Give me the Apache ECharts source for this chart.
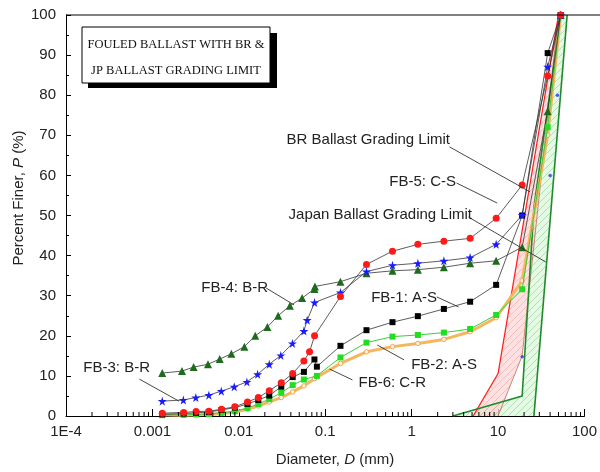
<!DOCTYPE html>
<html><head><meta charset="utf-8">
<script src="https://cdn.jsdelivr.net/npm/echarts@6/dist/echarts.min.js"></script>
<style>html,body{margin:0;padding:0;background:#fff}#c{width:600px;height:472px}</style>
</head><body><div id="c"></div>
<script>
// ---------- data ----------
const xTickLabels = ['1E-4','0.001','0.01','0.1','1','10','100'];
const sieves = [0.15,0.3,0.6,1.18,2.36,4.75,9.5,19,37.5,53];

const fb1D = [0.0013,0.0023,0.0032,0.0045,0.0063,0.009,0.0126,0.0168,0.0225,0.031,0.042,0.0566,0.075,0.08].concat(sieves);
const fb1P = [0.4,0.6,0.8,1.0,1.5,2.1,3.0,4.0,5.1,7.3,9.7,11.0,14.1,12.3,17.5,21.4,23.4,24.9,26.7,28.5,32.7,50,90.5,100];

const fb2D = [0.0013,0.0023,0.0032,0.0045,0.0063,0.009,0.0126,0.0168,0.0225,0.031,0.042,0.0566,0.08].concat(sieves);
const fb2P = [0.2,0.3,0.4,0.5,0.8,1.2,2.0,3.0,4.2,5.8,7.7,9.1,10.0,14.6,18.3,19.8,20.2,20.8,21.7,25.2,31.6,72,100];

const fb3D = [0.0013,0.00228,0.00318,0.0045,0.00627,0.00885,0.0124,0.0165,0.0225,0.0306,0.0417,0.0566,0.0618,0.0752].concat(sieves);
const fb3P = [3.7,4.0,4.6,5.2,6.2,7.3,8.5,10.4,12.9,15.1,18.1,21.2,23.9,28.3,30.8,36.0,37.6,38.1,38.7,39.5,42.8,50.1,87.1,100];

const fb4D = [0.0013,0.0022,0.0030,0.0044,0.0060,0.0082,0.0116,0.0155,0.0214,0.0285,0.039,0.054,0.075,0.076].concat(sieves);
const fb4P = [10.7,11.2,12.2,12.9,14.2,15.5,17.3,20.0,22.2,25.0,27.5,29.4,31.7,32.3,33.5,35.6,36.2,36.5,37.1,38.1,38.7,42.1,76,100];

const fb5D = [0.0013,0.0023,0.0032,0.0045,0.0063,0.009,0.0126,0.0168,0.0225,0.031,0.042,0.0566,0.0658,0.0752].concat(sieves);
const fb5P = [0.7,0.9,1.1,1.2,1.7,2.3,3.5,4.6,6.3,8.3,10.6,13.7,16.0,20.0,29.8,37.8,41.1,42.8,43.6,44.3,49.3,57.6,84.8,100];

const fb6D = [0.0013,0.0023,0.0032,0.0045,0.0063,0.009,0.0126,0.0168,0.0225,0.031,0.042,0.0566,0.075].concat(sieves);
const fb6P = [0.3,0.2,0.3,0.4,0.6,1.0,1.7,2.5,3.5,4.6,6.0,7.5,9.3,13.1,16.0,17.3,18.1,19.1,21.0,24.5,33.7,70,100];

// grading limits
const brUpperD = [5.15,10,50];   const brUpperP = [0,10.6,100];
const brLowerD = [10,19,50];     const brLowerP = [0,15,100];
const jpUpperD = [3,19,26,53];   const jpUpperP = [0,5,52,100];
const jpLowerD = [26,63];        const jpLowerP = [0,100];
const blueDotD = [19,40,48.6];   const blueDotP = [14.8,60,80];

// annotation arrows: [startD, startP, endD, endP]
const arrows = [
  [0.02075,31.9,0.0436,27.7],
  [0.000706,9.2,0.00203,3.7],
  [1.95,29.7,3.49,27.2],
  [0.817,14.0,0.40,17.7],
  [0.2065,9.0,0.1125,11.7],
  [2.75,67.1,23.4,55.9],
  [3.31,58.1,9.77,53.1],
  [4.55,49.6,35.7,38.4]
];
const notes = [
  ['FB-4: B-R',268,288],
  ['FB-3: B-R',150,368],
  ['FB-1: A-S',437,298],
  ['FB-2: A-S',477,365],
  ['FB-6: C-R',426,383],
  ['BR Ballast Grading Limit',450,140],
  ['FB-5: C-S',456,182],
  ['Japan Ballast Grading Limit',472,215]
];

// ---------- helpers ----------
const zip = (d,p) => d.map((v,i)=>[v,p[i]]);
const FONT = '"Liberation Sans", Arial, sans-serif';
function hatch(color, bg){
  const c = document.createElement('canvas'); c.width = 7; c.height = 7;
  const g = c.getContext('2d');
  g.fillStyle = bg; g.fillRect(0,0,7,7);
  g.strokeStyle = color; g.lineWidth = 0.7;
  g.beginPath(); g.moveTo(0,7); g.lineTo(7,0); g.moveTo(-1,1); g.lineTo(1,-1); g.moveTo(6,8); g.lineTo(8,6); g.stroke();
  return c;
}
function band(pts, fill, z){
  return {type:'custom', coordinateSystem:'cartesian2d', data:[[1,50]], silent:true, z:z, clip:false,
    renderItem:(params, api)=>({type:'polygon', shape:{points: pts.map(p=>api.coord(p))},
      style:{fill: fill, stroke:'none'}})};
}
const star = 'path://M50,0 L61,35 L98,35 L68,57 L79,91 L50,70 L21,91 L32,57 L2,35 L39,35 Z';
const minorX = [];
for (let k=-4;k<2;k++) for (let m=2;m<10;m++) minorX.push([m*Math.pow(10,k),0]);

function dataLine(name, d, p, lineColor, lw, symbol, size, color, z, extra){
  return Object.assign({type:'line', name, data:zip(d,p), symbol, symbolSize:size, showAllSymbol:true,
    lineStyle:{color:lineColor, width:lw}, itemStyle:{color:color, borderWidth:0}, z:z, silent:true}, extra||{});
}

const pinkFill = {image: hatch('rgba(225,110,110,0.45)','rgba(255,200,200,0.55)'), repeat:'repeat'};
const greenFill = {image: hatch('rgba(70,170,70,0.45)','rgba(205,245,205,0.55)'), repeat:'repeat'};

const chart = echarts.init(document.getElementById('c'), null, {renderer:'canvas'});
chart.setOption({
  animation:false,
  grid:{left:66, right:11, top:15, bottom:56, show:false},
  xAxis:{type:'log', logBase:10, min:1e-4, max:100,
    axisLine:{show:true, onZero:false, lineStyle:{color:'#000', width:1}},
    axisTick:{show:true, inside:true, length:7, lineStyle:{color:'#000'}},
    axisLabel:{fontSize:15, color:'#222', fontFamily:FONT, margin:8,
      formatter:v=>xTickLabels[Math.round(Math.log10(v))+4]},
    splitLine:{show:false}},
  yAxis:{type:'value', min:0, max:100, interval:10,
    axisLine:{show:true, lineStyle:{color:'#000', width:1}},
    axisTick:{show:true, inside:true, length:5, lineStyle:{color:'#000'}},
    minorTick:{show:true, splitNumber:2, length:3, lineStyle:{color:'#000'}},
    axisLabel:{fontSize:15, color:'#222', fontFamily:FONT, margin:10},
    splitLine:{show:false}},
  series:[
    band(zip(jpUpperD,jpUpperP).concat(zip(jpLowerD,jpLowerP).reverse()), greenFill, 1),
    band(zip(brUpperD,brUpperP).concat(zip(brLowerD,brLowerP).reverse()), pinkFill, 1),
    {type:'custom', coordinateSystem:'cartesian2d', data:minorX, silent:true, z:5, clip:false,
      renderItem:(params, api)=>{const p=api.coord([api.value(0),0]);
        return {type:'line', shape:{x1:p[0],y1:p[1],x2:p[0],y2:p[1]-4}, style:{stroke:'#000', lineWidth:1}};}},
    dataLine('brLower', brLowerD, brLowerP, '#c06a5a', 0.8, 'none', 0, '#c06a5a', 2),
    dataLine('brUpper', brUpperD, brUpperP, '#ff2020', 1.3, 'none', 0, '#ff2020', 2),
    dataLine('jpUpper', jpUpperD, jpUpperP, '#1f8a2a', 1.6, 'none', 0, '#1f8a2a', 2),
    dataLine('jpLower', jpLowerD, jpLowerP, '#1f8a2a', 1.6, 'none', 0, '#1f8a2a', 2),
    {type:'scatter', data:zip(blueDotD,blueDotP), symbol:'circle', symbolSize:3.5, itemStyle:{color:'#2233ff'}, z:3, silent:true},
    dataLine('FB-6', fb6D, fb6P, '#f5b65e', 3, 'circle', 4.5, '#fff4e0', 3, {itemStyle:{color:'#fff4e0', borderColor:'#f2a64a', borderWidth:1}}),
    dataLine('FB-2', fb2D, fb2P, '#3ccc3c', 1, 'rect', 6, '#22dd22', 4),
    dataLine('FB-1', fb1D, fb1P, '#333', 0.8, 'rect', 6, '#000', 4),
    dataLine('FB-4', fb4D, fb4P, '#333', 0.8, 'triangle', 8, '#1d6b1d', 4),
    dataLine('FB-3', fb3D, fb3P, '#333', 0.8, star, 9, '#1a1aff', 4),
    dataLine('FB-5', fb5D, fb5P, '#333', 0.8, 'circle', 7, '#ff1a1a', 4,
      {markLine:{silent:true, symbol:['none','arrow'], symbolSize:[0,9], animation:false,
        lineStyle:{color:'#333', width:0.9, type:'solid'}, label:{show:false},
        itemStyle:{color:'#111'},
        data: arrows.map(a=>[{coord:[a[0],a[1]]},{coord:[a[2],a[3]]}])}})
  ],
  graphic:[
    {type:'line', shape:{x1:66,y1:15,x2:600,y2:15}, style:{stroke:'#000', lineWidth:1}, z:10},
    {type:'rect', shape:{x:88,y:33,width:189,height:55}, style:{fill:'#000'}, z:10},
    {type:'rect', shape:{x:82,y:27,width:188,height:56}, style:{fill:'#fff', stroke:'#000', lineWidth:1}, z:11},
    {type:'text', x:176, y:45, style:{text:'FOULED BALLAST WITH BR &', align:'center', verticalAlign:'middle',
      font:'12.5px "Liberation Serif", "Times New Roman", serif', fill:'#111'}, z:12},
    {type:'text', x:176, y:71, style:{text:'JP BALLAST GRADING LIMIT', align:'center', verticalAlign:'middle',
      font:'12.5px "Liberation Serif", "Times New Roman", serif', fill:'#111'}, z:12},
    {type:'text', x:335, y:460, style:{text:'{n|Diameter, }{i|D}{n| (mm)}', align:'center', verticalAlign:'middle',
      rich:{n:{fontSize:15, fontFamily:FONT, fill:'#222'}, i:{fontSize:15, fontFamily:FONT, fontStyle:'italic', fill:'#222'}}}, z:12},
    {type:'text', x:19, y:198, rotation:Math.PI/2, style:{text:'{n|Percent Finer, }{i|P}{n| (%)}', align:'center', verticalAlign:'middle',
      rich:{n:{fontSize:15, fontFamily:FONT, fill:'#222'}, i:{fontSize:15, fontFamily:FONT, fontStyle:'italic', fill:'#222'}}}, z:12}
  ].concat(notes.map(n=>({type:'text', x:n[1], y:n[2], style:{text:n[0], align:'right', verticalAlign:'middle',
      font:'15px '+FONT, fill:'#222'}, z:12})))
});
</script>
</body></html>
